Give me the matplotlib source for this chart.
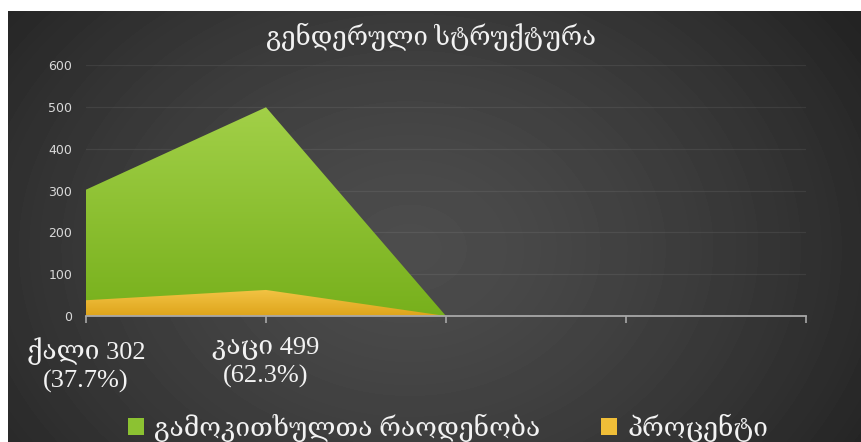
import numpy as np
import matplotlib.pyplot as plt
from matplotlib.colors import LinearSegmentedColormap
from matplotlib.patches import Patch

# Data
categories = ["ქალი 302\n(37.7%)", "კაცი 499\n(62.3%)", "", "", ""]
respondents = [302, 499, 0]
percent = [37.7, 62.3, 0]
series_names = ["გამოკითხულთა რაოდენობა", "პროცენტი"]
y_ticks = [0, 100, 200, 300, 400, 500, 600]
title = "გენდერული სტრუქტურა"

serif = ["Liberation Serif", "DejaVu Serif", "DejaVu Sans"]
sans = ["DejaVu Sans"]

W, H = 862, 442
fig = plt.figure(figsize=(W / 100, H / 100), dpi=100, facecolor="white")

# dark slide background with a soft radial glow
bg = fig.add_axes([8 / W, 0, 1 - 8 / W, 1 - 11 / H])
bg.axis("off")
h, w = 431, 854
yy, xx = np.mgrid[0:h, 0:w]
cx, cy = w * 0.47, h * 0.55
r = np.sqrt(((xx - cx) / (w * 0.62)) ** 2 + ((yy - cy) / (h * 0.95)) ** 2)
val = 0.30 - 0.16 * np.clip(r, 0, 1) ** 1.4
bg.imshow(val, cmap="gray", vmin=0, vmax=1, aspect="auto",
          extent=[0, 1, 0, 1], interpolation="bilinear")
bg.set_xlim(0, 1)
bg.set_ylim(0, 1)

ax = fig.add_axes([86 / W, 126 / H, 720 / W, 251 / H])
ax.set_facecolor("none")


def gradient_area(values, top_color, bottom_color, z):
    x = np.arange(len(values))
    poly = ax.fill_between(x, 0, values, facecolor="none", edgecolor="none", zorder=z)
    cmap = LinearSegmentedColormap.from_list("g", [bottom_color, top_color])
    grad = np.linspace(0, 1, 256).reshape(-1, 1)
    im = ax.imshow(grad, cmap=cmap, origin="lower", aspect="auto",
                   extent=[x[0], x[-1], 0, max(values)], zorder=z,
                   interpolation="bilinear")
    im.set_clip_path(poly.get_paths()[0], transform=ax.transData)


for yv in y_ticks[1:]:
    ax.axhline(yv, color="#ffffff", alpha=0.07, lw=0.9, zorder=1)

gradient_area(respondents, "#a2d048", "#77b01c", 2)
gradient_area(percent, "#f3c445", "#dea41b", 3)

ax.set_xlim(0, 4)
ax.set_ylim(0, 600)
for s in ["top", "right", "left"]:
    ax.spines[s].set_visible(False)
ax.spines["bottom"].set_color("#a8a8a8")
ax.spines["bottom"].set_linewidth(1.3)
ax.spines["bottom"].set_zorder(4)

ax.set_yticks(y_ticks)
ax.set_yticklabels([str(v) for v in y_ticks], fontsize=9, color="#d9d9d9",
                   family=sans)
ax.tick_params(axis="y", length=0, pad=10)

ax.set_xticks(range(len(categories)))
ax.set_xticklabels(categories, fontsize=19, color="#f2f2f2", family=serif,
                   linespacing=1.3)
ax.tick_params(axis="x", length=5, width=1.2, color="#a8a8a8", pad=10)

fig.text(0.5, 1 - 37 / H, title, ha="center", va="center", fontsize=18.5,
         color="#f2f2f2", family=serif)

handles = [Patch(facecolor="#8cc232", edgecolor="none"),
           Patch(facecolor="#f0be38", edgecolor="none")]
fig.legend(handles, series_names, loc="center", bbox_to_anchor=(0.52, 1 - 428 / H),
           ncol=2, frameon=False, labelcolor="#f2f2f2",
           prop={"family": serif, "size": 19}, handlelength=0.6, handleheight=0.6,
           handletextpad=0.4, columnspacing=2.3, borderaxespad=0)

fig.savefig("out.png", dpi=100, facecolor="white")
